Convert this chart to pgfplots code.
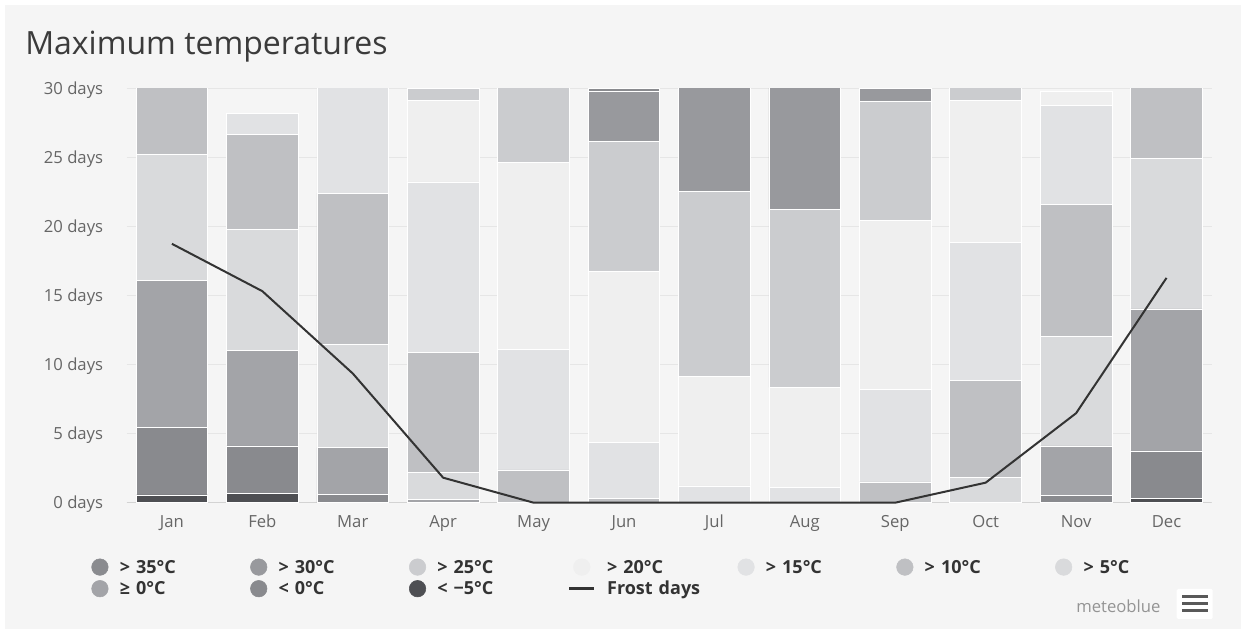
\documentclass[border=0pt]{standalone}
\usepackage{fontspec}
\setmainfont{Open Sans}
\usepackage{pgfplots}
\usepackage{pgfplotstable}
\pgfplotsset{compat=1.18}

\definecolor{bg}{HTML}{F5F5F5}
\definecolor{cmfive}{HTML}{4E4F53}
\definecolor{cmzero}{HTML}{898A8E}
\definecolor{cgezero}{HTML}{A3A4A8}
\definecolor{cfive}{HTML}{D9DADC}
\definecolor{cten}{HTML}{BFC0C3}
\definecolor{cfifteen}{HTML}{E1E2E4}
\definecolor{ctwenty}{HTML}{EFEFEF}
\definecolor{ctwentyfive}{HTML}{CBCCCF}
\definecolor{cthirty}{HTML}{98999D}
\definecolor{cthirtyfive}{HTML}{8A8B8F}
\definecolor{linec}{HTML}{333333}
\definecolor{gridc}{HTML}{E6E6E6}
\definecolor{axisc}{HTML}{D3D3D3}
\definecolor{tickc}{HTML}{666666}
\definecolor{titlec}{HTML}{3B3B3B}
\definecolor{legc}{HTML}{333333}

\pgfplotstableread{
x  lmfive lmzero gezero gfive  gten   gfifteen gtwenty gtwentyfive gthirty gthirtyfive frost
0  0.56   4.88   10.65  9.15   5.76   0        0       0           0       0           18.75
1  0.65   3.46   6.90   8.76   6.89   1.53     0       0           0       0           15.32
2  0      0.60   3.39   7.50   10.94  8.57     0       0           0       0           9.36
3  0      0      0.24   1.94   8.71   12.34    5.88    0.89        0       0           1.81
4  0      0      0      0      2.37   8.73     13.57   6.33        0       0           0
5  0      0      0      0      0.31   4.08     12.33   9.45        3.59    0.24        0
6  0      0      0      0      0      1.21     7.95    13.37       8.47    0           0
7  0      0      0      0      0      1.11     7.25    12.91       9.73    0           0
8  0      0      0      0      1.50   6.73     12.22   8.58        0.97    0           0
9  0      0      0      1.81   7.02   10.04    10.28   1.85        0       0           1.45
10 0      0.53   3.58   7.92   9.55   7.21     1.01    0           0       0           6.48
11 0.31   3.44   10.28  10.89  6.08   0        0       0           0       0           16.28
}\datatable

\pgfplotsset{
  commonaxis/.style={
    at={(95.03pt,95.48pt)}, anchor=south west,
    scale only axis, width=813.75pt, height=310.65pt,
    xmin=-0.5, xmax=11.5, ymin=0, ymax=30,
  },
}

\begin{document}
\begin{tikzpicture}
% background panel (pixel coordinates, y downward)
\begin{scope}[x=0.75pt, y=-0.75pt, yshift=472.5pt]
  \fill[white] (0,0) rectangle (1241,630);
  \fill[bg] (5,5) rectangle (1241,629);
  \node[anchor=base west, inner sep=0pt, text=titlec,
        font=\fontsize{24}{29}\selectfont] at (25,55) {Maximum temperatures};
  \node[anchor=west, inner sep=0pt, text=black!42,
        font=\fontsize{12.5}{15}\selectfont] at (1076,606.7) {meteoblue};
  \fill[white, rounded corners=1pt] (1176.7,589) rectangle (1212.7,619);
  \foreach \yy in {596.7,603.3,610.7}
    \draw[black!65, line width=2.4pt] (1182,\yy) -- (1208,\yy);
\end{scope}

\begin{axis}[
  commonaxis,
  ybar stacked, bar width=0.793,
  /pgf/number format/assume math mode=true,
  axis line style={draw=none},
  tick style={draw=none},
  xtick={0,...,11},
  xticklabels={Jan,Feb,Mar,Apr,May,Jun,Jul,Aug,Sep,Oct,Nov,Dec},
  ytick={0,5,...,30},
  yticklabel={\pgfmathprintnumber[assume math mode=true]{\tick}~days},
  major tick length=0pt,
  ymajorgrids, grid style={draw=gridc, line width=0.75pt},
  yticklabel style={font=\fontsize{12.5}{15}\selectfont, text=tickc,
     anchor=base east, inner sep=0pt, xshift=-17.5pt, yshift=-4.4pt},
  xticklabel style={font=\fontsize{12.5}{15}\selectfont, text=tickc,
     anchor=base, inner sep=0pt, yshift=-18.6pt},
  every axis plot/.append style={draw=white, line width=0.6pt},
]
\addplot[fill=cmfive] table[x=x, y=lmfive]{\datatable};
\addplot[fill=cmzero] table[x=x, y=lmzero]{\datatable};
\addplot[fill=cgezero] table[x=x, y=gezero]{\datatable};
\addplot[fill=cfive] table[x=x, y=gfive]{\datatable};
\addplot[fill=cten] table[x=x, y=gten]{\datatable};
\addplot[fill=cfifteen] table[x=x, y=gfifteen]{\datatable};
\addplot[fill=ctwenty] table[x=x, y=gtwenty]{\datatable};
\addplot[fill=ctwentyfive] table[x=x, y=gtwentyfive]{\datatable};
\addplot[fill=cthirty] table[x=x, y=gthirty]{\datatable};
\addplot[fill=cthirtyfive] table[x=x, y=gthirtyfive]{\datatable};
\draw[axisc, line width=0.75pt] (rel axis cs:0,0) -- (rel axis cs:1,0);
\end{axis}

\begin{axis}[
  commonaxis,
  hide axis, clip=false,
  legend columns=7,
  legend cell align=left,
  legend style={at={(-0.03253,-0.13327)}, anchor=north west,
    draw=none, fill=none, inner sep=0pt, outer sep=0pt,
    column sep=0pt, row sep=0pt,
    font=\fontsize{13.5}{16}\selectfont\bfseries, text=legc,
    nodes={inner xsep=0pt, inner ysep=1.8pt, text height=9.6pt, text depth=3pt,
           text width=80pt, anchor=base west},
    /tikz/every odd column/.append style={column sep=8.5pt},
    /tikz/every even column/.append style={column sep=17.8pt}},
]
\addplot[linec, line width=1.5pt, line join=round, forget plot] table[x=x, y=frost]{\datatable};
\addlegendimage{legend image code/.code={\fill[cthirtyfive] (0pt,4.5pt) circle[radius=6.2pt];}}
\addlegendentry{> 35°C}
\addlegendimage{legend image code/.code={\fill[cthirty] (0pt,4.5pt) circle[radius=6.2pt];}}
\addlegendentry{> 30°C}
\addlegendimage{legend image code/.code={\fill[ctwentyfive] (0pt,4.5pt) circle[radius=6.2pt];}}
\addlegendentry{> 25°C}
\addlegendimage{legend image code/.code={\fill[ctwenty] (0pt,4.5pt) circle[radius=6.2pt];}}
\addlegendentry{> 20°C}
\addlegendimage{legend image code/.code={\fill[cfifteen] (0pt,4.5pt) circle[radius=6.2pt];}}
\addlegendentry{> 15°C}
\addlegendimage{legend image code/.code={\fill[cten] (0pt,4.5pt) circle[radius=6.2pt];}}
\addlegendentry{> 10°C}
\addlegendimage{legend image code/.code={\fill[cfive] (0pt,4.5pt) circle[radius=6.2pt];}}
\addlegendentry{> 5°C}
\addlegendimage{legend image code/.code={\fill[cgezero] (0pt,4.5pt) circle[radius=6.2pt];}}
\addlegendentry{≥ 0°C}
\addlegendimage{legend image code/.code={\fill[cmzero] (0pt,4.5pt) circle[radius=6.2pt];}}
\addlegendentry{< 0°C}
\addlegendimage{legend image code/.code={\fill[cmfive] (0pt,4.5pt) circle[radius=6.2pt];}}
\addlegendentry{< −5°C}
\addlegendimage{legend image code/.code={\draw[linec, line width=2.2pt] (-9.4pt,4.5pt) -- (9.4pt,4.5pt);}}
\addlegendentry{Frost days}
\end{axis}
\end{tikzpicture}
\end{document}
